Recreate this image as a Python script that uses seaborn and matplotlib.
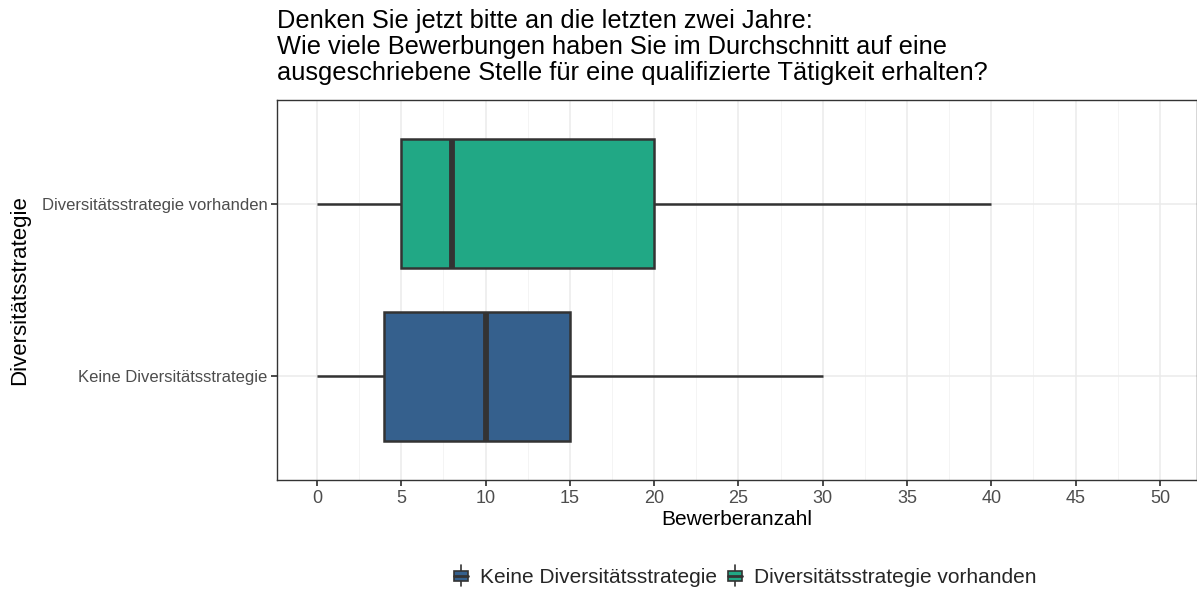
import matplotlib
matplotlib.use("Agg")
import matplotlib.pyplot as plt
from matplotlib.patches import Patch, Rectangle
from matplotlib.lines import Line2D
from matplotlib.legend_handler import HandlerBase
from matplotlib.ticker import MultipleLocator
import pandas as pd
import seaborn as sns

# ── Data (five-number summaries) ────────────────────────────────────────────
groups = ["Diversitätsstrategie vorhanden", "Keine Diversitätsstrategie"]
vorhanden_values = [0, 5, 8, 20, 40]
keine_values = [0, 4, 10, 15, 30]
legend_order = ["Keine Diversitätsstrategie", "Diversitätsstrategie vorhanden"]
colors = {"Diversitätsstrategie vorhanden": "#21A885",
          "Keine Diversitätsstrategie": "#35608D"}
x_ticks = list(range(0, 51, 5))

title = ("Denken Sie jetzt bitte an die letzten zwei Jahre:\n"
         "Wie viele Bewerbungen haben Sie im Durchschnitt auf eine\n"
         "ausgeschriebene Stelle für eine qualifizierte Tätigkeit erhalten?")

df = pd.DataFrame({
    "strategie": [groups[0]] * len(vorhanden_values) + [groups[1]] * len(keine_values),
    "anzahl": vorhanden_values + keine_values,
})

EDGE = "#333333"


class BoxKeyHandler(HandlerBase):
    """Small boxplot glyph for the legend keys (like ggplot's draw_key_boxplot)."""

    def create_artists(self, legend, orig_handle, xdescent, ydescent,
                       width, height, fontsize, trans):
        cx = -xdescent + width / 2
        bw = width * 0.85
        bh = height * 0.6
        y0 = -ydescent + (height - bh) / 2
        whisk = Line2D([cx, cx], [-ydescent - height * 0.1, -ydescent + height * 1.1],
                       color=EDGE, linewidth=1.2, transform=trans)
        box = Rectangle((cx - bw / 2, y0), bw, bh,
                        facecolor=orig_handle.get_facecolor(), edgecolor=EDGE,
                        linewidth=1.2, transform=trans)
        med = Line2D([cx - bw / 2, cx + bw / 2], [y0 + bh / 2, y0 + bh / 2],
                     color=EDGE, linewidth=2.0, transform=trans)
        return [whisk, box, med]


sns.set_theme(style="white")
plt.rcParams["font.family"] = ["Liberation Sans", "DejaVu Sans"]

fig = plt.figure(figsize=(11.97, 5.9), dpi=100)
ax = fig.add_axes([0.2314, 0.1864, 0.7686, 0.6441])

sns.boxplot(
    data=df, x="anzahl", y="strategie", hue="strategie", order=groups,
    hue_order=groups, palette=colors, saturation=1, orient="h", width=0.75,
    whis=1.5, showcaps=False, linecolor=EDGE, linewidth=1.8,
    medianprops={"linewidth": 4.2, "color": EDGE},
    legend=False, ax=ax, zorder=3,
)

# ── Axes styling (ggplot theme_bw look) ─────────────────────────────────────
ax.set_xlim(-2.37, 52.2)
ax.set_ylim(1.6, -0.6)
ax.set_xticks(x_ticks)
ax.xaxis.set_minor_locator(MultipleLocator(2.5))
ax.grid(True, which="major", color="#EBEBEB", linewidth=1.1, zorder=0)
ax.grid(True, which="minor", axis="x", color="#F2F2F2", linewidth=0.6, zorder=0)
ax.set_axisbelow(True)
for sp in ax.spines.values():
    sp.set_color(EDGE)
    sp.set_linewidth(1.0)
ax.tick_params(axis="x", which="major", length=4, color=EDGE,
               labelsize=13, labelcolor="#4D4D4D", pad=3, bottom=True)
ax.tick_params(axis="x", which="minor", length=0)
ax.tick_params(axis="y", length=4, color=EDGE, labelsize=12,
               labelcolor="#4D4D4D", pad=3, left=True)

ax.set_xlabel("Bewerberanzahl", fontsize=15, color="black", labelpad=2)
ax.set_ylabel("Diversitätsstrategie", fontsize=16, color="black", labelpad=8)
fig.text(0.2314, 0.985, title, fontsize=18.3, color="black",
         ha="left", va="top", linespacing=1.12)

# ── Legend at the bottom ────────────────────────────────────────────────────
handles = [Patch(facecolor=colors[g], edgecolor=EDGE) for g in legend_order]
fig.legend(handles, legend_order, loc="center", bbox_to_anchor=(0.622, 0.022),
           ncol=2, frameon=False, fontsize=15, handlelength=0.8,
           handleheight=0.9, handletextpad=0.5, columnspacing=0.5,
           handler_map={Patch: BoxKeyHandler()})

fig.savefig("out.png", dpi=100)
